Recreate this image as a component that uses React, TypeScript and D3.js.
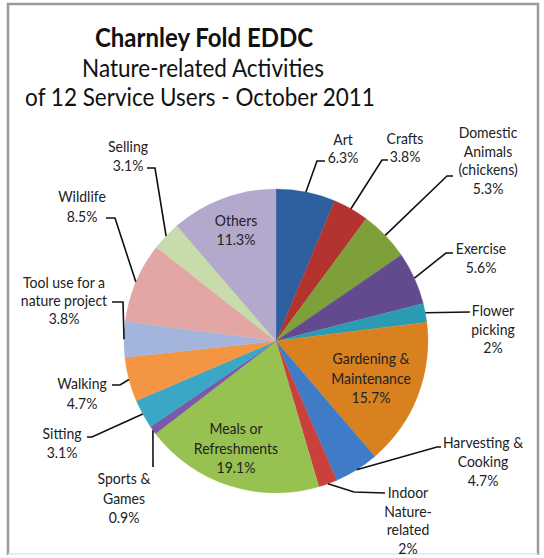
import React from "react";
import * as d3 from "d3";

const categories = [
  "Art", "Crafts", "Domestic Animals (chickens)", "Exercise", "Flower picking",
  "Gardening & Maintenance", "Harvesting & Cooking", "Indoor Nature-related",
  "Meals or Refreshments", "Sports & Games", "Sitting", "Walking",
  "Tool use for a nature project", "Wildlife", "Selling", "Others",
];
const percents = [6.3, 3.8, 5.3, 5.6, 2, 15.7, 4.7, 2, 19.1, 0.9, 3.1, 4.7, 3.8, 8.5, 3.1, 11.3];
const colors = [
  "#2e609f", "#b3332f", "#7ea03a", "#634a8f", "#2b9bb3", "#d9801f", "#3f7cc8", "#c9403d",
  "#97c150", "#7a5aa8", "#3aa7c4", "#f39542", "#a3b5dc", "#e2a6a4", "#c7dbab", "#b3a9cc",
];
const labelLines: string[][] = [
  ["Art"], ["Crafts"], ["Domestic", "Animals", "(chickens)"], ["Exercise"], ["Flower", "picking"],
  ["Gardening &", "Maintenance"], ["Harvesting &", "Cooking"], ["Indoor", "Nature-", "related"],
  ["Meals or", "Refreshments"], ["Sports &", "Games"], ["Sitting"], ["Walking"],
  ["Tool use for a", "nature project"], ["Wildlife"], ["Selling"], ["Others"],
];
const titleLines = ["Charnley Fold EDDC", "Nature-related Activities", "of 12 Service Users - October 2011"];

// layout: label centre x, first baseline y, line gap, leader route (elbow points after the edge point)
const layout: { x: number; y: number; gap: number; route: [number, number][] | null }[] = [
  { x: 343, y: 145, gap: 18, route: [[317, 161], [325, 161]] },
  { x: 405, y: 144, gap: 18, route: [[382, 160], [388, 160]] },
  { x: 488, y: 138, gap: 18.5, route: [[447, 176], [453, 176]] },
  { x: 481, y: 254, gap: 19, route: [[446, 253], [453, 253]] },
  { x: 493, y: 316, gap: 18.5, route: [[470, 312]] },
  { x: 371, y: 364, gap: 19.5, route: null },
  { x: 483, y: 448, gap: 19, route: [[437, 447], [441, 447]] },
  { x: 408, y: 498, gap: 18.5, route: [[354, 492], [385, 493]] },
  { x: 236, y: 434, gap: 19.5, route: null },
  { x: 124, y: 484, gap: 19.5, route: [[153, 467]] },
  { x: 62, y: 439, gap: 19, route: [[92, 437], [87, 437]] },
  { x: 82, y: 389, gap: 19.5, route: [[120, 385], [112, 385]] },
  { x: 64, y: 288, gap: 18, route: [[123, 302], [112, 302]] },
  { x: 82, y: 202, gap: 20, route: [[115, 218], [106, 218]] },
  { x: 128, y: 152, gap: 18.5, route: [[155, 168], [147, 168]] },
  { x: 236, y: 226, gap: 18.5, route: null },
];

const W = 544, H = 558;
const cx = 276, cy = 341, R = 152;
const FONT = "Lato, 'Open Sans', sans-serif";

export default function App() {
  const pie = d3.pie<number>().sort(null).value((d) => d).startAngle(0).endAngle(2 * Math.PI);
  const arcs = pie(percents);
  const arc = d3.arc<d3.PieArcDatum<number>>().innerRadius(0).outerRadius(R);
  const fmt = (v: number) => `${d3.format("")(v)}%`;

  return (
    <svg width={W} height={H} style={{ position: "absolute", left: 0, top: 0, background: "#fff" }}>
      <rect x={0} y={0} width={W} height={H} fill="#fff" />
      <path d="M8,555 V4 H538 V555" fill="none" stroke="#9a9a9a" strokeWidth={2.5} />
      <line x1={8} x2={538} y1={554} y2={554} stroke="#e4e4e4" strokeWidth={1.5} />
      {titleLines.map((t, i) => (
        <text
          key={t}
          transform={`translate(${[204, 203, 200][i]},${[47, 77, 106][i]}) scale(1,1.1)`}
          textAnchor="middle"
          fontFamily={FONT}
          fontWeight={i === 0 ? 700 : 400}
          fontSize={i === 0 ? 24 : 22.5}
          fill="#111"
        >
          {t}
        </text>
      ))}
      <g transform={`translate(${cx},${cy})`}>
        {arcs.map((a, i) => (
          <path key={categories[i]} d={arc(a) || ""} fill={colors[i]} stroke={colors[i]} strokeWidth={0.3} />
        ))}
      </g>
      {arcs.map((a, i) => {
        const L = layout[i];
        if (!L.route) return null;
        const mid = (a.startAngle + a.endAngle) / 2;
        const ex = cx + R * Math.sin(mid);
        const ey = cy - R * Math.cos(mid);
        const pts: [number, number][] = [[ex, ey], ...L.route];
        return (
          <path key={"l" + i} d={d3.line()(pts) || ""} fill="none" stroke="#111" strokeWidth={1.6} />
        );
      })}
      {arcs.map((a, i) => {
        const L = layout[i];
        const lines = [...labelLines[i], fmt(percents[i])];
        return (
          <g key={"t" + i}>
            {lines.map((s, j) => (
              <text
                key={j}
                transform={`translate(${L.x},${L.y + j * L.gap}) scale(1,1.15)`}
                textAnchor="middle"
                fontFamily={FONT}
                fontSize={14}
                fill="#222"
              >
                {s}
              </text>
            ))}
          </g>
        );
      })}
    </svg>
  );
}
